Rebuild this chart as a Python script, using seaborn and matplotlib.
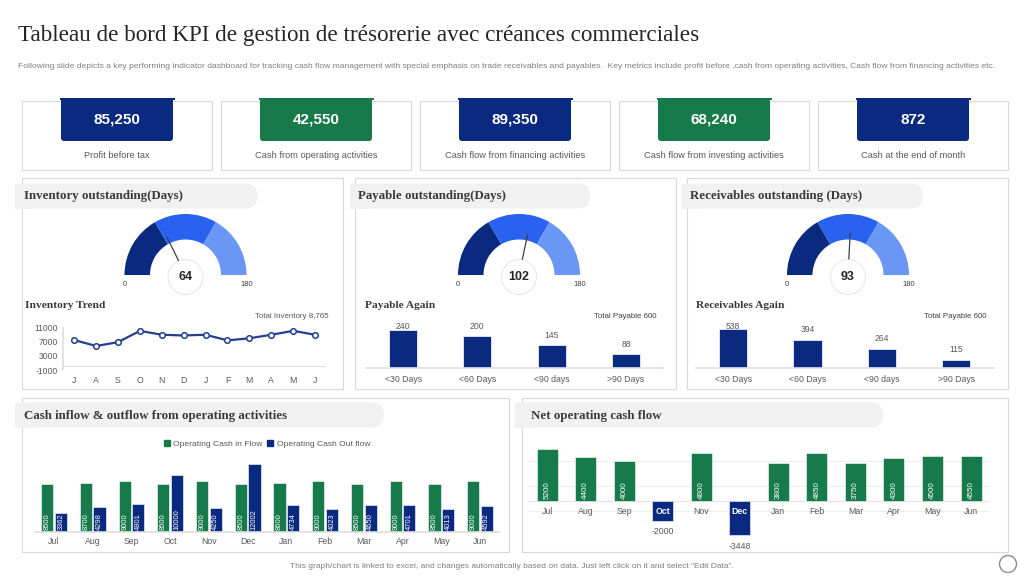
import matplotlib.pyplot as plt
import matplotlib.patches as mpatches
import seaborn as sns
import numpy as np
import pandas as pd

W, H = 1024, 576

NAVY = '#0A2A80'
GREEN = '#177A4A'
BLUE = '#2962F0'
LIGHT_BLUE = '#6A96F5'
LINE = '#233F8E'
TXT = '#595959'
HEAD = '#3A3A3A'
BORDER = '#D9D9D9'
PILL = '#F1F1F1'

title = "Tableau de bord KPI de gestion de trésorerie avec créances commerciales"
subtitle = ("Following slide depicts a key performing indicator dashboard for tracking cash flow management "
            "with special emphasis on trade receivables and payables.  Key metrics include profit before ,cash "
            "from operating activities, Cash flow from financing activities etc.")
footer = ('This graph/chart is linked to excel, and changes automatically based on data. '
          'Just left click on it and select "Edit Data".')

# KPI cards
kpi_values = [85250, 42550, 89350, 68240, 872]
kpi_labels = ['Profit before tax', 'Cash from operating activities', 'Cash flow from financing activities',
              'Cash flow from investing activities', 'Cash at the end of month']
kpi_colors = [NAVY, GREEN, NAVY, GREEN, NAVY]

# gauges
gauge_titles = ['Inventory outstanding(Days)', 'Payable outstanding(Days)', 'Receivables outstanding (Days)']
gauge_values = [64, 102, 93]
gauge_min, gauge_max = 0, 180
gauge_bands = [60, 120, 180]
gauge_colors = [NAVY, BLUE, LIGHT_BLUE]

# inventory trend
trend_months = ['J', 'A', 'S', 'O', 'N', 'D', 'J', 'F', 'M', 'A', 'M', 'J']
trend_values = [7500, 5800, 6900, 10100, 9000, 8800, 9000, 7400, 8000, 9000, 10100, 9000]
trend_ticks = [-1000, 3000, 7000, 11000]
total_inventory = '8,765'

# ageing
age_buckets = ['<30 Days', '<60 Days', '<90 days', '>90 Days']
payable_values = [240, 200, 145, 88]
receivable_values = [538, 394, 264, 115]
total_payable = 600

# operating cash
months = ['Jul', 'Aug', 'Sep', 'Oct', 'Nov', 'Dec', 'Jan', 'Feb', 'Mar', 'Apr', 'May', 'Jun']
cash_in = [8500, 8700, 9000, 8500, 9000, 8500, 8600, 9000, 8500, 9000, 8500, 9000]
cash_out = [3362, 4298, 4901, 10000, 4250, 12002, 4734, 4023, 4650, 4701, 4013, 4592]
net_cash = [5200, 4400, 4000, -2000, 4800, -3448, 3800, 4850, 3750, 4300, 4500, 4550]
net_grid = [-3500, -1000, 1500, 4000]

sns.set_theme(style='white')
plt.rcParams['font.family'] = ['Liberation Sans', 'DejaVu Sans']
plt.rcParams['axes.unicode_minus'] = False

fig = plt.figure(figsize=(10.24, 5.76), dpi=100)
fig.patch.set_facecolor('white')
bg = fig.add_axes([0, 0, 1, 1], zorder=0)
bg.set_xlim(0, W)
bg.set_ylim(H, 0)
bg.axis('off')


def px_axes(x0, y0, x1, y1):
    ax = fig.add_axes([x0 / W, 1 - y1 / H, (x1 - x0) / W, (y1 - y0) / H], zorder=2)
    ax.set_facecolor('none')
    return ax


def clean(ax):
    for s in ax.spines.values():
        s.set_visible(False)
    ax.set_xlabel('')
    ax.set_ylabel('')
    ax.tick_params(length=0, labelsize=6.3, colors=TXT)


serif = 'Liberation Serif'

# titles
bg.text(18, 35, title, fontsize=16.7, family=serif, color='#262626', va='center')
bg.text(18, 66.5, subtitle, fontsize=6.1, color='#7F7F7F', va='center')
bg.text(512, 566, footer, fontsize=6.05, color='#7F7F7F', va='center', ha='center')
bg.add_patch(mpatches.Circle((1008, 564), 8.5, fc='white', ec='#8C8C8C', lw=1))

# KPI cards
for i, (v, lab, col) in enumerate(zip(kpi_values, kpi_labels, kpi_colors)):
    x = 22 + 199 * i
    bg.add_patch(mpatches.Rectangle((x, 101), 189.5, 69, fc='white', ec=BORDER, lw=0.8))
    bg.add_patch(mpatches.FancyBboxPatch((x + 39, 98), 112, 43, boxstyle='round,pad=0,rounding_size=3',
                                         fc=col, ec='none'))
    bg.add_patch(mpatches.Rectangle((x + 37.5, 97.5), 115, 2.2, fc=col, ec='none'))
    bg.text(x + 95, 119.5, f'{v:,}', color='white', fontsize=11, fontweight='bold', ha='center', va='center')
    bg.text(x + 95, 155.5, lab, color=TXT, fontsize=6.7, ha='center', va='center')

# panels with header pills
panels = [(22, 178, 342.5, 388.5), (355, 178, 675.5, 388.5), (687, 178, 1007.5, 388.5),
          (22, 398, 509, 551.5), (521.5, 398, 1007.5, 551.5)]
pills = [(15, 183.5, 257.5), (350, 183.5, 590), (681, 183.5, 923), (15, 402.5, 384), (515, 402.5, 883)]
head_titles = gauge_titles + ['Cash inflow & outflow from operating activities', 'Net operating cash flow']
head_x = [24.5, 357.5, 690, 24.5, 531]
for (x0, y0, x1, y1), (px0, py, px1), t, tx in zip(panels, pills, head_titles, head_x):
    bg.add_patch(mpatches.Rectangle((x0, y0), x1 - x0, y1 - y0, fc='white', ec=BORDER, lw=0.8))
    bg.add_patch(mpatches.FancyBboxPatch((px0, py), px1 - px0, 25, boxstyle='round,pad=0,rounding_size=12.5',
                                         fc=PILL, ec='none'))
    bg.add_patch(mpatches.Rectangle((px0, py), 20, 25, fc=PILL, ec='none'))
    bg.text(tx, py + 13, t, family=serif, fontweight='bold', fontsize=9.3, color=HEAD, va='center')


# gauges
def draw_gauge(cx, cy, value):
    r_out, r_in = 61, 35.5
    start = gauge_min
    for end, col in zip(gauge_bands, gauge_colors):
        a1 = 180 - (end - gauge_min) / (gauge_max - gauge_min) * 180
        a2 = 180 - (start - gauge_min) / (gauge_max - gauge_min) * 180
        bg.add_patch(mpatches.Wedge((cx, cy), r_out, -a2, -a1, width=r_out - r_in, fc=col, ec='none'))
        start = end
    bg.add_patch(mpatches.Circle((cx, cy + 2), 17.5, fc='white', ec='#E8E8E8', lw=0.8))
    a = np.radians(180 - (value - gauge_min) / (gauge_max - gauge_min) * 180)
    r = np.array([16, 42])
    bg.plot(cx + r * np.cos(a), cy - r * np.sin(a), color='#404040', lw=0.9)
    bg.text(cx, cy + 1.5, str(value), fontsize=9, fontweight='bold', color='#262626', ha='center', va='center')
    bg.text(cx - 61, 285, str(gauge_min), fontsize=5.5, color='#404040', ha='center', va='center')
    bg.text(cx + 61, 285, str(gauge_max), fontsize=5.5, color='#404040', ha='center', va='center')


for cx, v in zip([185.5, 519, 848], gauge_values):
    draw_gauge(cx, 275, v)

# sub headers
for x, t in zip([25, 365, 695.5], ['Inventory Trend', 'Payable Again', 'Receivables Again']):
    bg.text(x, 306, t, family=serif, fontweight='bold', fontsize=8.2, color=HEAD, va='center')
bg.text(328.5, 317, f'Total Inventory {total_inventory}', fontsize=5.7, color=TXT, ha='right', va='center')
bg.text(656, 317, f'Total Payable {total_payable}', fontsize=5.7, color='#404040', ha='right', va='center')
bg.text(987, 317, f'Total Payable {total_payable}', fontsize=5.7, color='#404040', ha='right', va='center')

# inventory trend line
ax = px_axes(63.3, 327.7, 326, 370)
trend_df = pd.DataFrame({'pos': np.arange(len(trend_values)), 'value': trend_values})
sns.lineplot(data=trend_df, x='pos', y='value', ax=ax, color=LINE, lw=1.6, marker='o', markersize=4,
             markerfacecolor='white', markeredgecolor=LINE, markeredgewidth=1.1)
ax.set_xlim(-0.5, len(trend_values) - 0.5)
ax.set_ylim(trend_ticks[0], trend_ticks[-1])
ax.set_yticks(trend_ticks)
ax.set_xticks(trend_df['pos'])
ax.set_xticklabels(trend_months)
clean(ax)
ax.spines['left'].set_visible(True)
ax.spines['left'].set_color('#E0E0E0')
ax.axhline(0, color='#E0E0E0', lw=0.8, zorder=0)
ax.tick_params(axis='y', pad=4, labelsize=6.2)
ax.tick_params(axis='x', pad=4)


# ageing bars
def age_bars(x0, x1, values, top):
    ax = px_axes(x0, 326.6, x1, 368)
    df = pd.DataFrame({'bucket': age_buckets, 'value': values})
    sns.barplot(data=df, x='bucket', y='value', color=NAVY, saturation=1, width=0.38, ax=ax,
                edgecolor='white', linewidth=0.5)
    ax.set_ylim(0, top)
    clean(ax)
    ax.set_yticks([])
    ax.spines['bottom'].set_visible(True)
    ax.spines['bottom'].set_color('#E0E0E0')
    ax.tick_params(axis='x', pad=5)
    pad = top * 10 / 41.4
    for bar, v in zip(ax.patches, values):
        ax.text(bar.get_x() + bar.get_width() / 2, min(v + pad, top), str(v), ha='center', va='center',
                fontsize=6.2, color=TXT)


age_bars(366, 663, payable_values, 262)
age_bars(696, 993.5, receivable_values, 574)

# operating cash in / out
ax = px_axes(34.6, 455.4, 499.4, 531.7)
ops = pd.DataFrame({'month': months * 2,
                    'series': ['Operating Cash in Flow'] * 12 + ['Operating Cash Out flow'] * 12,
                    'value': cash_in + cash_out})
sns.barplot(data=ops, x='month', y='value', hue='series', palette=[GREEN, NAVY], saturation=1,
            width=0.7, gap=0.1, ax=ax, edgecolor='white', linewidth=0.4)
ax.set_ylim(0, 13500)
clean(ax)
ax.set_yticks([])
ax.spines['bottom'].set_visible(True)
ax.spines['bottom'].set_color('#E0E0E0')
ax.tick_params(axis='x', pad=4)
for cont, vals in zip(ax.containers, [cash_in, cash_out]):
    for bar, v in zip(cont, vals):
        ax.text(bar.get_x() + bar.get_width() / 2, 250, str(v), rotation=90, ha='center', va='bottom',
                fontsize=5.4, color='white')
handles = [mpatches.Patch(color=GREEN, label='Operating Cash in Flow'),
           mpatches.Patch(color=NAVY, label='Operating Cash Out flow')]
ax.legend(handles=handles, loc='center', bbox_to_anchor=(0.5, 1.15), ncol=2, frameon=False, fontsize=6.1,
          handlelength=0.7, handleheight=0.7, handletextpad=0.4, columnspacing=0.6, labelcolor=TXT)

# net operating cash flow
ax = px_axes(527.8, 441.1, 990.3, 535.5)
net = pd.DataFrame({'month': months, 'value': net_cash,
                    'sign': np.where(np.array(net_cash) >= 0, 'pos', 'neg')})
sns.barplot(data=net, x='month', y='value', hue='sign', palette={'pos': GREEN, 'neg': NAVY}, dodge=False,
            saturation=1, width=0.545, ax=ax, legend=False, edgecolor='white', linewidth=0.4)
ax.set_ylim(-3500, 6000)
clean(ax)
ax.set_yticks(net_grid)
ax.set_yticklabels([])
ax.yaxis.grid(True, color='#EDEDED', lw=0.8)
ax.set_axisbelow(True)
ax.axhline(0, color='#E6E6E6', lw=0.8, zorder=0)
ax.set_xticks([])
for bar in ax.patches:
    h = bar.get_height()
    if bar.get_width() == 0 or np.isnan(h):
        continue
    xc = bar.get_x() + bar.get_width() / 2
    if h >= 0:
        ax.text(xc, 180, f'{h:.0f}', rotation=90, ha='center', va='bottom', fontsize=5.8, color='white')
    else:
        ax.annotate(f'{h:.0f}', (xc, h), xytext=(0, -8), textcoords='offset points', ha='center',
                    va='center', fontsize=6.3, color=TXT)
for i, (m, v) in enumerate(zip(months, net_cash)):
    neg = v < 0
    ax.annotate(m, (i, 0), xytext=(0, -7.5), textcoords='offset points', ha='center', va='center',
                fontsize=6.3, color='white' if neg else TXT, fontweight='bold' if neg else 'normal')

fig.savefig('out.png', dpi=100, facecolor='white')
